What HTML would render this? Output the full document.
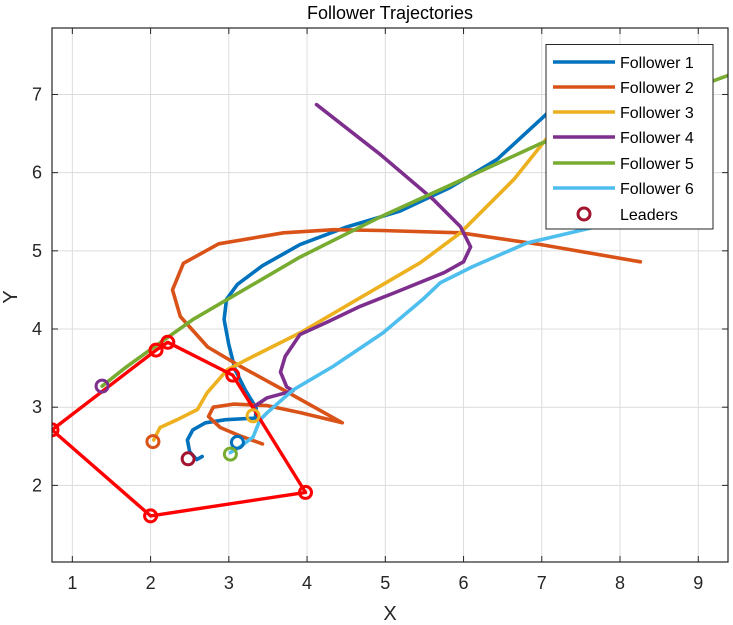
<!DOCTYPE html>
<html><head><meta charset="utf-8"><style>
body{margin:0;background:#fff}
svg{display:block;font-family:"Liberation Sans",Arial,sans-serif}
</style></head><body>
<svg id="chart" width="733" height="625"></svg>
<script>
const xTicks=[1,2,3,4,5,6,7,8,9];
const yTicks=[2,3,4,5,6,7];
const seriesNames=["Follower 1","Follower 2","Follower 3","Follower 4","Follower 5","Follower 6"];
const f1x=[2.66,2.59,2.50,2.47,2.54,2.70,2.96,3.34,3.35,3.21,3.08,3.00,2.94,2.97,3.11,3.43,3.91,4.49,5.19,5.83,6.43,7.05,7.30];
const f1y=[2.37,2.33,2.43,2.58,2.71,2.80,2.84,2.86,2.99,3.22,3.48,3.80,4.12,4.38,4.57,4.81,5.08,5.30,5.51,5.81,6.17,6.74,7.00];
const f2x=[8.26,6.99,5.96,4.94,4.34,3.70,2.87,2.42,2.28,2.38,2.73,3.15,3.70,4.45,3.92,3.49,3.06,2.80,2.74,2.89,3.15,3.43];
const f2y=[4.86,5.08,5.23,5.26,5.27,5.23,5.09,4.84,4.50,4.16,3.77,3.52,3.22,2.80,2.93,3.02,3.04,3.00,2.88,2.74,2.63,2.53];
const f3x=[2.04,2.12,2.34,2.60,2.72,2.98,3.31,3.91,4.68,5.45,5.96,6.64,7.05,7.31];
const f3y=[2.58,2.74,2.84,2.97,3.18,3.48,3.65,3.95,4.40,4.85,5.23,5.91,6.42,6.74];
const f4x=[4.12,4.94,5.61,5.96,6.09,6.00,5.75,5.11,4.68,4.26,3.91,3.72,3.66,3.74,3.82,3.49,3.31,3.37];
const f4y=[6.87,6.23,5.66,5.31,5.05,4.86,4.72,4.46,4.29,4.09,3.93,3.65,3.45,3.26,3.21,3.12,3.00,2.90];
const f5x=[1.38,1.67,1.99,2.54,3.91,4.93,5.83,6.98,9.40];
const f5y=[3.27,3.50,3.73,4.12,4.92,5.43,5.84,6.37,7.25];
const f6x=[3.02,3.14,3.31,3.40,3.49,3.82,4.33,4.97,5.48,5.70,6.12,6.81,7.66,8.26];
const f6y=[2.42,2.49,2.62,2.84,2.93,3.22,3.52,3.95,4.38,4.59,4.80,5.10,5.30,5.46];
const leaderX=[0.74,2.00,3.98,3.05,2.22,2.07];
const leaderY=[2.71,1.61,1.91,3.41,3.83,3.73];
const startX=[3.11,2.03,3.31,1.38,3.02,2.48];
const startY=[2.55,2.56,2.89,3.27,2.40,2.34];

const colors=["#0072BD","#D95319","#EDB120","#7E2F8E","#77AC30","#4DBEEE"];
const startColors=["#0072BD","#D95319","#EDB120","#7E2F8E","#77AC30","#A2142F"];
const L=52,R=728,T=28,B=562,xmin=0.74,xmax=9.38,ymin=1.02,ymax=7.85;
const sx=v=>L+(v-xmin)/(xmax-xmin)*(R-L);
const sy=v=>B-(v-ymin)/(ymax-ymin)*(B-T);
const NS="http://www.w3.org/2000/svg";
const svg=document.getElementById('chart');
function mk(tag,attrs,parent){const e=document.createElementNS(NS,tag);for(const k in attrs)e.setAttribute(k,attrs[k]);(parent||svg).appendChild(e);return e;}

const defs=mk('defs',{});
const cp=mk('clipPath',{id:'clip'},defs);
mk('rect',{x:L,y:T,width:R-L,height:B-T},cp);

xTicks.forEach(t=>{const g=mk('line',{x1:sx(t),x2:sx(t),y1:T,y2:B,stroke:'#dcdcdc','stroke-width':1});

});
yTicks.forEach(t=>{const g=mk('line',{x1:L,x2:R,y1:sy(t),y2:sy(t),stroke:'#dcdcdc','stroke-width':1});

});

const plot=mk('g',{'clip-path':'url(#clip)'});


const allX=[f1x,f2x,f3x,f4x,f5x,f6x],allY=[f1y,f2y,f3y,f4y,f5y,f6y];
allX.forEach((xs,i)=>{
  const pts=xs.map((x,j)=>sx(x).toFixed(1)+','+sy(allY[i][j]).toFixed(1)).join(' ');
  const p=mk('polyline',{points:pts,fill:'none',stroke:colors[i],'stroke-width':3.6,'stroke-linejoin':'round','stroke-linecap':'round'},plot);
  
  
});
const lp=leaderX.map((x,j)=>sx(x).toFixed(1)+','+sy(leaderY[j]).toFixed(1)).join(' ');
const poly=mk('polygon',{points:lp,fill:'none',stroke:'#FF0000','stroke-width':3.4,'stroke-linejoin':'round'},plot);


startX.forEach((x,j)=>{const c=mk('circle',{cx:sx(x),cy:sy(startY[j]),r:6,fill:'none',stroke:startColors[j],'stroke-width':3},plot);

});
leaderX.forEach((x,j)=>{const c=mk('circle',{cx:sx(x),cy:sy(leaderY[j]),r:6,fill:'none',stroke:'#FF0000','stroke-width':3},plot);

});

const box=mk('rect',{x:L,y:T,width:R-L,height:B-T,fill:'none',stroke:'#262626','stroke-width':1.2});


xTicks.forEach(t=>{const x=sx(t);
 mk('line',{x1:x,x2:x,y1:B,y2:B-6,stroke:'#262626'});mk('line',{x1:x,x2:x,y1:T,y2:T+6,stroke:'#262626'});
 const tx=mk('text',{x:x,y:B+27,'text-anchor':'middle','font-size':18,fill:'#262626'});tx.textContent=t;
 
 });
yTicks.forEach(t=>{const y=sy(t);
 mk('line',{x1:L,x2:L+6,y1:y,y2:y,stroke:'#262626'});mk('line',{x1:R,x2:R-6,y1:y,y2:y,stroke:'#262626'});
 const tx=mk('text',{x:L-10,y:y+6,'text-anchor':'end','font-size':18,fill:'#262626'});tx.textContent=t;
 
 });
</script>
<svg style="position:absolute;left:0;top:0" width="733" height="625">
<text x="390" y="19" text-anchor="middle" font-size="18" fill="#000" font-family="Liberation Sans, sans-serif">Follower Trajectories</text>
<text x="390" y="620" text-anchor="middle" font-size="20" fill="#262626" font-family="Liberation Sans, sans-serif">X</text>
<text x="17" y="297" text-anchor="middle" font-size="20" fill="#262626" font-family="Liberation Sans, sans-serif" transform="rotate(-90 17 297)">Y</text>
<g font-family="Liberation Sans, sans-serif" font-size="16" fill="#000">
<rect x="546" y="44.5" width="167" height="184.5" fill="#fff" stroke="#262626" stroke-width="1"/>
<g><line x1="553" x2="615" y1="62" y2="62" stroke="#0072BD" stroke-width="3.5"/><text x="620" y="68">Follower 1</text></g>
<g><line x1="553" x2="615" y1="87" y2="87" stroke="#D95319" stroke-width="3.5"/><text x="620" y="93">Follower 2</text></g>
<g><line x1="553" x2="615" y1="112" y2="112" stroke="#EDB120" stroke-width="3.5"/><text x="620" y="118">Follower 3</text></g>
<g><line x1="553" x2="615" y1="137" y2="137" stroke="#7E2F8E" stroke-width="3.5"/><text x="620" y="143">Follower 4</text></g>
<g><line x1="553" x2="615" y1="163" y2="163" stroke="#77AC30" stroke-width="3.5"/><text x="620" y="169">Follower 5</text></g>
<g><line x1="553" x2="615" y1="188" y2="188" stroke="#4DBEEE" stroke-width="3.5"/><text x="620" y="194">Follower 6</text></g>
<g><circle cx="584" cy="214" r="6" fill="none" stroke="#A2142F" stroke-width="3"/><text x="620" y="220">Leaders</text></g>
</g>
</svg>
</body></html>
